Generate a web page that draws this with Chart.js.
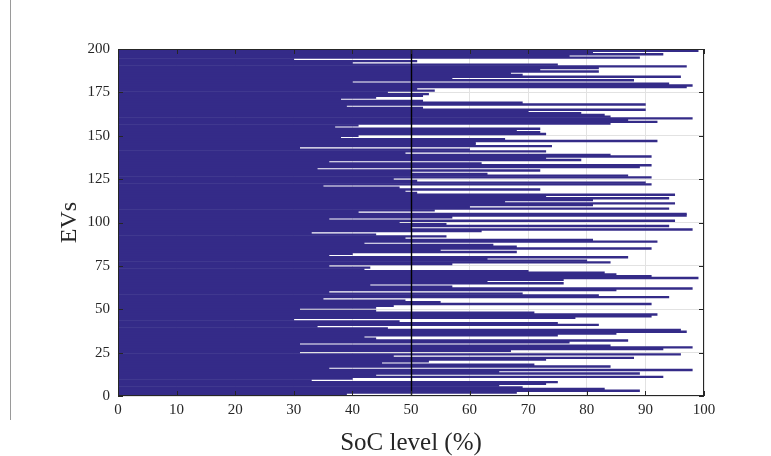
<!DOCTYPE html>
<html>
<head>
<meta charset="utf-8">
<script src="https://cdn.jsdelivr.net/npm/chart.js@4"></script>
<style>
  html, body { margin: 0; padding: 0; background: #fff; }
  #wrap { position: relative; width: 771px; height: 456px; }
  #frame { position: absolute; left: 10px; top: 0; width: 0; height: 420px; border-left: 1px solid #9a9a9a; }
</style>
</head>
<body>
<div id="wrap">
  <div id="frame"></div>
  <canvas id="soc" width="771" height="456"></canvas>
</div>
<script>
console.log('soc_barh.js')

// SoC level (%) of each EV, EV 1 first
const socLevels = [
  39, 68, 89, 83, 69, 65, 73, 75, 33, 40,
  93, 44, 89, 65, 98, 36, 84, 71, 45, 53,
  73, 88, 47, 96, 31, 67, 93, 98, 84, 31,
  77, 87, 44, 42, 75, 85, 97, 96, 46, 34,
  82, 75, 48, 30, 78, 91, 92, 71, 44, 31,
  44, 47, 91, 55, 49, 35, 94, 82, 69, 36,
  85, 98, 57, 43, 76, 63, 76, 99, 91, 85,
  83, 70, 42, 43, 36, 57, 84, 80, 63, 87,
  36, 40, 68, 55, 91, 68, 64, 42, 92, 81,
  49, 56, 44, 33, 62, 98, 50, 94, 56, 48,
  95, 36, 57, 97, 97, 41, 54, 94, 60, 81,
  95, 66, 81, 94, 73, 95, 51, 49, 72, 48,
  35, 91, 90, 51, 47, 91, 87, 63, 50, 72,
  34, 89, 91, 62, 36, 79, 73, 91, 84, 49,
  73, 60, 31, 74, 61, 61, 92, 66, 38, 41,
  73, 72, 68, 72, 37, 41, 84, 92, 87, 98,
  84, 83, 79, 70, 90, 52, 39, 90, 69, 52,
  38, 44, 52, 53, 46, 54, 51, 97, 98, 94,
  40, 88, 57, 96, 69, 67, 82, 72, 82, 97,
  75, 40, 51, 30, 89, 77, 93, 81, 99, 36
];
// EV numbers 1..200 (category axis)
const evIds = socLevels.map((v, k) => k + 1);

const xTicksStep = 10;   // SoC axis 0..100
const yTicksStep = 25;   // EV axis 0..200
const targetSoC = 50;    // black marker line

const barColor = '#342b88';
const textColor = '#262626';
const serif = "'Liberation Serif', 'Times New Roman', serif";

const overlay = {
  id: 'overlay',
  afterDatasetsDraw(chart) {
    const {ctx, chartArea: a, scales: {x, y}} = chart;
    ctx.save();
    // 50 % line
    const px = Math.round(x.getPixelForValue(targetSoC)) + 0.5;
    ctx.strokeStyle = '#000';
    ctx.lineWidth = 1.4;
    ctx.beginPath();
    ctx.moveTo(px, a.top);
    ctx.lineTo(px, a.bottom);
    ctx.stroke();
    // box + inward ticks (matlab style)
    ctx.strokeStyle = textColor;
    ctx.lineWidth = 1;
    ctx.strokeRect(a.left + 0.5, a.top + 0.5, a.right - a.left - 1, a.bottom - a.top - 1);
    ctx.beginPath();
    x.ticks.forEach(t => {
      const p = Math.round(x.getPixelForValue(t.value)) + 0.5;
      ctx.moveTo(p, a.bottom); ctx.lineTo(p, a.bottom - 5);
      ctx.moveTo(p, a.top); ctx.lineTo(p, a.top + 5);
    });
    y.ticks.forEach(t => {
      const p = Math.round(y.getPixelForValue(t.value)) + 0.5;
      ctx.moveTo(a.left, p); ctx.lineTo(a.left + 5, p);
      ctx.moveTo(a.right, p); ctx.lineTo(a.right - 5, p);
    });
    ctx.stroke();
    ctx.restore();
  }
};

const config = {
  type: 'bar',
  data: {
    datasets: [{
      data: evIds.map((ev, k) => ({x: socLevels[k], y: ev})),
      backgroundColor: barColor,
      borderWidth: 0,
      barPercentage: 1,
      categoryPercentage: 1
    }]
  },
  options: {
    indexAxis: 'y',
    responsive: false,
    animation: false,
    layout: { padding: {left: 0, right: 67, top: 49, bottom: 0} },
    plugins: {
      legend: { display: false },
      tooltip: { enabled: false }
    },
    scales: {
      x: {
        type: 'linear',
        min: 0,
        max: 100,
        border: { display: false },
        grid: { color: '#e2e2e2', drawTicks: false },
        ticks: { stepSize: xTicksStep, padding: 5, color: textColor, font: {family: serif, size: 15} },
        title: { display: true, text: 'SoC level (%)', color: textColor,
                 font: {family: serif, size: 25, lineHeight: 1}, padding: {top: 0, bottom: 0} },
        afterFit(scale) { scale.height = 60; }
      },
      y: {
        type: 'linear',
        min: 0,
        max: 200,
        offset: false,
        border: { display: false },
        grid: { color: '#e2e2e2', drawTicks: false, offset: false },
        ticks: { stepSize: yTicksStep, padding: 8, color: textColor, font: {family: serif, size: 15} },
        title: { display: true, text: 'EVs', color: textColor,
                 font: {family: serif, size: 24, lineHeight: 1}, padding: {top: 58, bottom: 0} },
        afterFit(scale) { scale.width = 118; }
      }
    }
  },
  plugins: [overlay]
};

const chart = new Chart('soc', config);
</script>
</body>
</html>
